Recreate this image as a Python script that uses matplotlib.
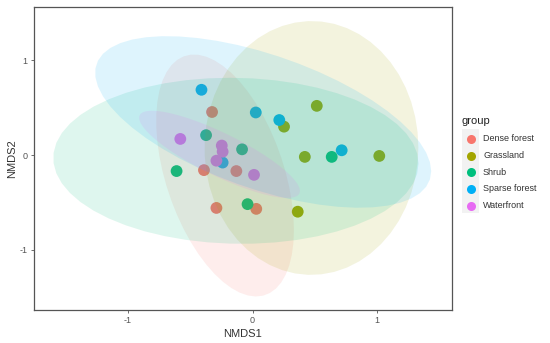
import numpy as np
import matplotlib
matplotlib.use("Agg")
import matplotlib.pyplot as plt
from matplotlib.patches import Polygon, Rectangle
from matplotlib.lines import Line2D

plt.rcParams['font.family'] = ['Liberation Sans', 'DejaVu Sans']

groups = ["Dense forest", "Grassland", "Shrub", "Sparse forest", "Waterfront"]
colors = ["#F8766D", "#A3A500", "#00BF7D", "#00B0F6", "#E76BF3"]

dense_x = [-0.325, -0.39, -0.13, -0.29, 0.03]
dense_y = [0.455, -0.16, -0.17, -0.56, -0.57]
grass_x = [0.516, 0.253, 0.42, 1.018, 0.363]
grass_y = [0.52, 0.30, -0.02, -0.01, -0.60]
shrub_x = [-0.373, -0.084, -0.61, -0.04, 0.636]
shrub_y = [0.21, 0.06, -0.17, -0.52, -0.02]
sparse_x = [-0.41, 0.026, 0.215, 0.716, -0.24]
sparse_y = [0.69, 0.45, 0.37, 0.05, -0.08]
water_x = [-0.58, -0.247, -0.24, -0.29, 0.012]
water_y = [0.17, 0.10, 0.035, -0.06, -0.21]

xs = [dense_x, grass_x, shrub_x, sparse_x, water_x]
ys = [dense_y, grass_y, shrub_y, sparse_y, water_y]

F95 = {4: 6.944272}  # qf(0.95, 2, n-1)


def cov_trob(x, nu=5, maxit=25, tol=0.01):
    n, p = x.shape
    wt = np.ones(n)
    loc = x.mean(axis=0)
    w = np.sqrt(wt)
    X = x - loc
    for _ in range(maxit):
        w0 = w
        X = x - loc
        u, d, vt = np.linalg.svd(np.sqrt(w / w.sum())[:, None] * X, full_matrices=False)
        wX = X @ vt.T @ np.diag(1 / d)
        Q = (wX ** 2).sum(axis=1)
        w = (wt * (nu + p)) / (nu + Q)
        loc = (w[:, None] * x).sum(axis=0) / w.sum()
        if np.all(np.abs(w - w0) < tol):
            break
    cov = (np.sqrt(w)[:, None] * X).T @ (np.sqrt(w)[:, None] * X) / wt.sum()
    return cov, loc


def ellipse_pts(x, y, segments=51):
    data = np.column_stack([x, y])
    cov, center = cov_trob(data)
    chol = np.linalg.cholesky(cov).T  # upper triangular like R chol
    radius = np.sqrt(2 * F95[len(x) - 1])
    ang = np.arange(segments + 1) * 2 * np.pi / segments
    circ = np.column_stack([np.cos(ang), np.sin(ang)])
    return center + radius * (circ @ chol)


fig = plt.figure(figsize=(5.5, 3.43), dpi=100)
ax = fig.add_axes([34 / 550, 33 / 343, 418 / 550, 303 / 343])

for gx, gy, c in zip(xs, ys, colors):
    ax.scatter(gx, gy, s=72, color=c, edgecolors='none', zorder=1)
for gx, gy, c in zip(xs, ys, colors):
    pts = ellipse_pts(np.array(gx), np.array(gy))
    ax.add_patch(Polygon(pts, closed=True, facecolor=c, alpha=0.13,
                         edgecolor='none', zorder=2))

ax.set_xlim(-1.755, 1.602)
ax.set_ylim(-1.64, 1.566)
ax.set_xticks([-1, 0, 1])
ax.set_yticks([-1, 0, 1])
ax.set_xticklabels(["-1", "0", "1"])
ax.set_yticklabels(["-1", "0", "1"])
ax.tick_params(length=2.5, width=0.6, color='#555555', labelsize=6.5,
               labelcolor='#555555', pad=2)
for s in ax.spines.values():
    s.set_color('#555555')
    s.set_linewidth(0.9)
ax.set_xlabel("NMDS1", fontsize=8, color='#333333', labelpad=3)
ax.set_ylabel("NMDS2", fontsize=8, color='#333333', labelpad=2)

# legend
fig.text(461 / 550, 1 - 121 / 343, "group", fontsize=8, color='#222222',
         va='center', ha='left')
fig.patches.append(Rectangle((462 / 550, 1 - 213 / 343), 17 / 550, 84 / 343,
                             transform=fig.transFigure, facecolor='#F2F2F2',
                             edgecolor='none'))
key_y = [138.5, 155.5, 172, 189, 205.5]
for g, c, ky in zip(groups, colors, key_y):
    fig.lines.append(Line2D([470.5 / 550], [1 - ky / 343], marker='o',
                            markersize=6.5, color=c, markeredgewidth=0,
                            linestyle='none', transform=fig.transFigure))
    fig.text(483 / 550, 1 - ky / 343, g, fontsize=6.5, color='#333333',
             va='center', ha='left')

fig.savefig("out.png", dpi=100)
